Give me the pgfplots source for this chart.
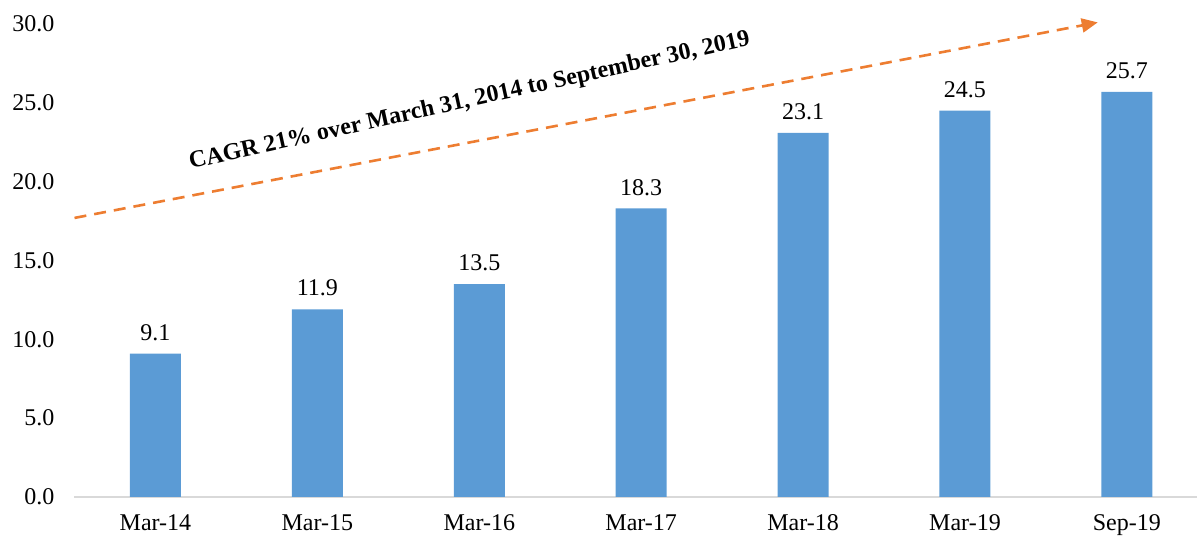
\documentclass[border=0pt]{standalone}
\usepackage{pgfplots}
\pgfplotsset{compat=1.18}
\usetikzlibrary{arrows.meta}
\usepackage{fontspec}
\setmainfont{Liberation Serif}
\definecolor{barblue}{HTML}{5B9BD5}
\definecolor{arrowor}{HTML}{ED7D31}
\definecolor{axgray}{HTML}{D9D9D9}
\begin{document}
\begin{tikzpicture}
\begin{axis}[
  scale only axis,
  width=561pt, height=236.5pt,
  xmin=-0.5, xmax=6.43,
  ymin=0, ymax=30,
  ytick={0,5,...,30},
  yticklabel style={font=\fontsize{12}{14}\selectfont, xshift=-6.5pt, /pgf/number format/.cd,fixed,fixed zerofill,precision=1,assume math mode=true},
  xtick=data,
  xticklabels={Mar-14,Mar-15,Mar-16,Mar-17,Mar-18,Mar-19,Sep-19},
  xticklabel style={font=\fontsize{12}{14}\selectfont, yshift=-6pt, text height=1.6ex, text depth=0.4ex},
  axis x line*=bottom,
  axis y line*=left,
  x axis line style={axgray, line width=1pt, -},
  y axis line style={draw=none},
  major tick length=0pt,
  clip=false,
  ybar, bar width=25.5pt,
  nodes near coords,
  nodes near coords style={font=\fontsize{12}{14}\selectfont, yshift=3pt, /pgf/number format/.cd,fixed,fixed zerofill,precision=1,assume math mode=true},
]
\addplot[fill=barblue, draw=none] coordinates {
(0,9.1) (1,11.9) (2,13.5) (3,18.3) (4,23.1) (5,24.5) (6,25.7)};
\draw[arrowor, line width=1.3pt, dash pattern=on 6pt off 4pt, -{Triangle[length=8pt,width=7pt]}]
  (axis cs:-0.5,17.7) -- (axis cs:5.82,30.1);
\node[rotate=12.5, font=\fontsize{12}{14}\selectfont\bfseries] at (axis cs:1.94,25.1) {CAGR 21\% over March 31, 2014 to September 30, 2019};
\end{axis}
\pgfresetboundingbox
\path ([shift={(-37.25pt,-20.5pt)}]current axis.south west) rectangle ([shift={(0.25pt,12pt)}]current axis.north east);
\end{tikzpicture}
\end{document}
